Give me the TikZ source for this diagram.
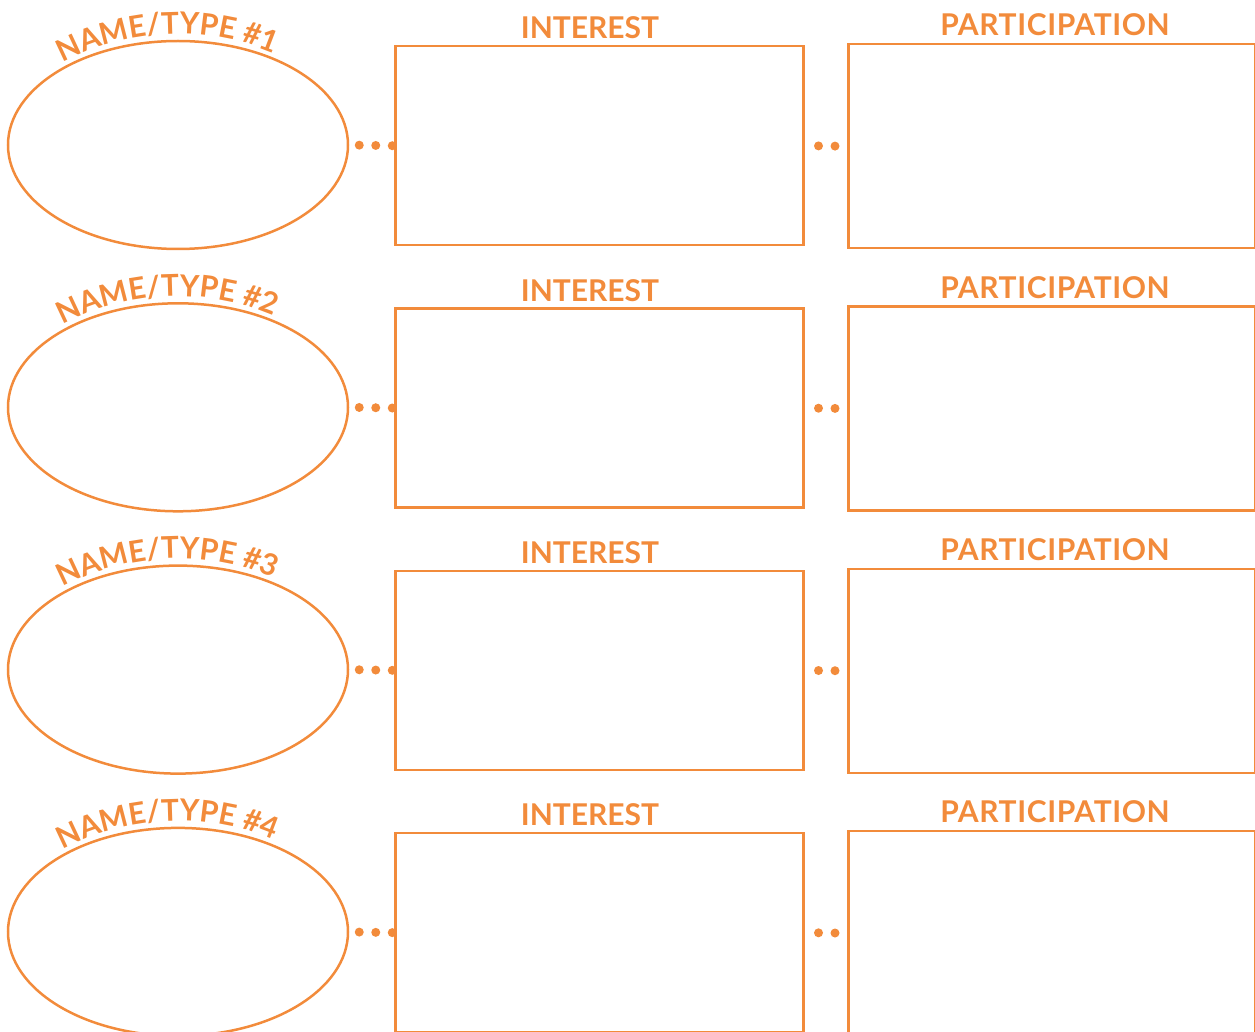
\documentclass[tikz,border=0pt]{standalone}
\usepackage{fontspec}
\setmainfont{Lato}
\usetikzlibrary{shapes.geometric,decorations.text}
\definecolor{org}{HTML}{F28B3B}
\newcommand\lblfont{\fontsize{30}{30}\selectfont\bfseries}
\begin{document}
\begin{tikzpicture}[x=1pt,y=1pt,
  oval/.style={draw=org, line width=2.5pt, ellipse, minimum width=340pt, minimum height=208pt, inner sep=0pt},
  ibox/.style={draw=org, line width=2.5pt, rectangle, minimum width=408pt, minimum height=199pt, inner sep=0pt, anchor=north west},
  pbox/.style={draw=org, line width=2.5pt, rectangle, minimum width=407pt, minimum height=204pt, inner sep=0pt, anchor=north west},
  head/.style={text=org, font=\lblfont, inner sep=0pt, anchor=base},
  dots/.style={draw=org, line width=9pt, line cap=round, dash pattern=on 0pt off 16.5pt}]
\useasboundingbox (0,0) rectangle (1255,-1032);
\foreach \r/\n in {0/1,1/2,2/3,3/4}{
  \pgfmathsetmacro\ya{145+262.3*\r}
  \pgfmathsetmacro\yb{45+262.3*\r}
  \pgfmathsetmacro\yc{43+262.3*\r}
  \pgfmathsetmacro\yd{39+262.3*\r}
  \pgfmathsetmacro\ye{36+262.3*\r}
  \pgfmathsetmacro\yf{282+262.3*\r}
  \node[oval] (e\r) at (178,-\ya) {};
  \node[ibox] (i\r) at (394,-\yb) {};
  \node[pbox] (p\r) at (847,-\yc) {};
  \node[head] (it\r) at (590,-\yd) {INTEREST};
  \node[head] (pt\r) at (1055,-\ye) {\addfontfeature{LetterSpace=2}PARTICIPATION};
  \draw[dots, dash phase=6.5pt] (e\r.east) -- (i\r.west);
  \draw[dots, dash phase=2.5pt] (i\r.east) -- (p\r.west);
  \path[decorate, decoration={text along path, text align=center, text color=org,
      text={|\lblfont|NAME/TYPE {\#}\n}}]
    (178,-\yf) ++(155:248pt) arc[start angle=155, end angle=30, radius=248pt];
}
\end{tikzpicture}
\end{document}
